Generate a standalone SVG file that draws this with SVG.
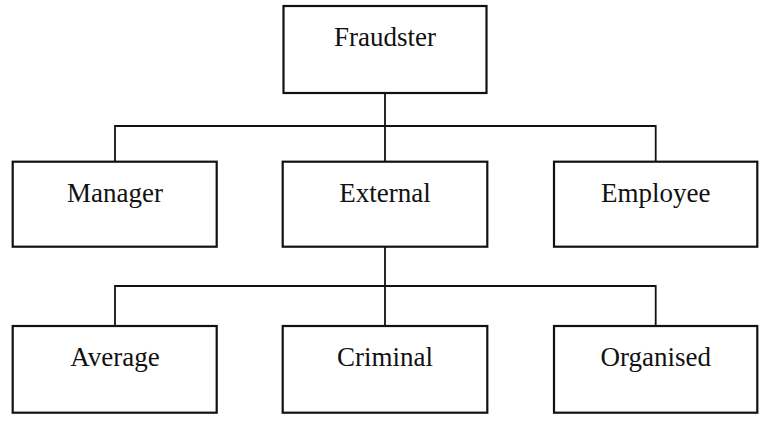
<svg xmlns="http://www.w3.org/2000/svg" width="768" height="421" viewBox="0 0 768 421">
<style>
.box{fill:#fff;stroke:#111;stroke-width:2.2}
.lbl{font-size:27px;fill:#111;text-anchor:middle}
.con{fill:none;stroke:#111;stroke-width:1.8}
</style>
<rect width="768" height="421" fill="#fff"/>
<g id="connectors">
<path class="con" d="M385 93V162"/>
<path class="con" d="M115 162V126H655.7V162"/>
<path class="con" d="M385 247V326"/>
<path class="con" d="M115 326V286H655.7V326"/>
</g>
<g font-family="'Liberation Serif', 'Times New Roman', Times, 'DejaVu Serif', serif">
<g id="fraudster"><rect class="box" x="283.5" y="6" width="203" height="87"/><text class="lbl" x="385" y="46">Fraudster</text></g>
<g id="manager"><rect class="box" x="12.7" y="161.7" width="204" height="85"/><text class="lbl" x="115" y="202">Manager</text></g>
<g id="external"><rect class="box" x="282.7" y="161.7" width="204.6" height="85"/><text class="lbl" x="385" y="202">External</text></g>
<g id="employee"><rect class="box" x="554" y="161.7" width="203.3" height="85"/><text class="lbl" x="655.7" y="202">Employee</text></g>
<g id="average"><rect class="box" x="12.7" y="326" width="204" height="86.7"/><text class="lbl" x="115" y="366">Average</text></g>
<g id="criminal"><rect class="box" x="282.7" y="326" width="204.6" height="86.7"/><text class="lbl" x="385" y="366">Criminal</text></g>
<g id="organised"><rect class="box" x="554" y="326" width="203.3" height="86.7"/><text class="lbl" x="655.7" y="366">Organised</text></g>
</g>
</svg>
